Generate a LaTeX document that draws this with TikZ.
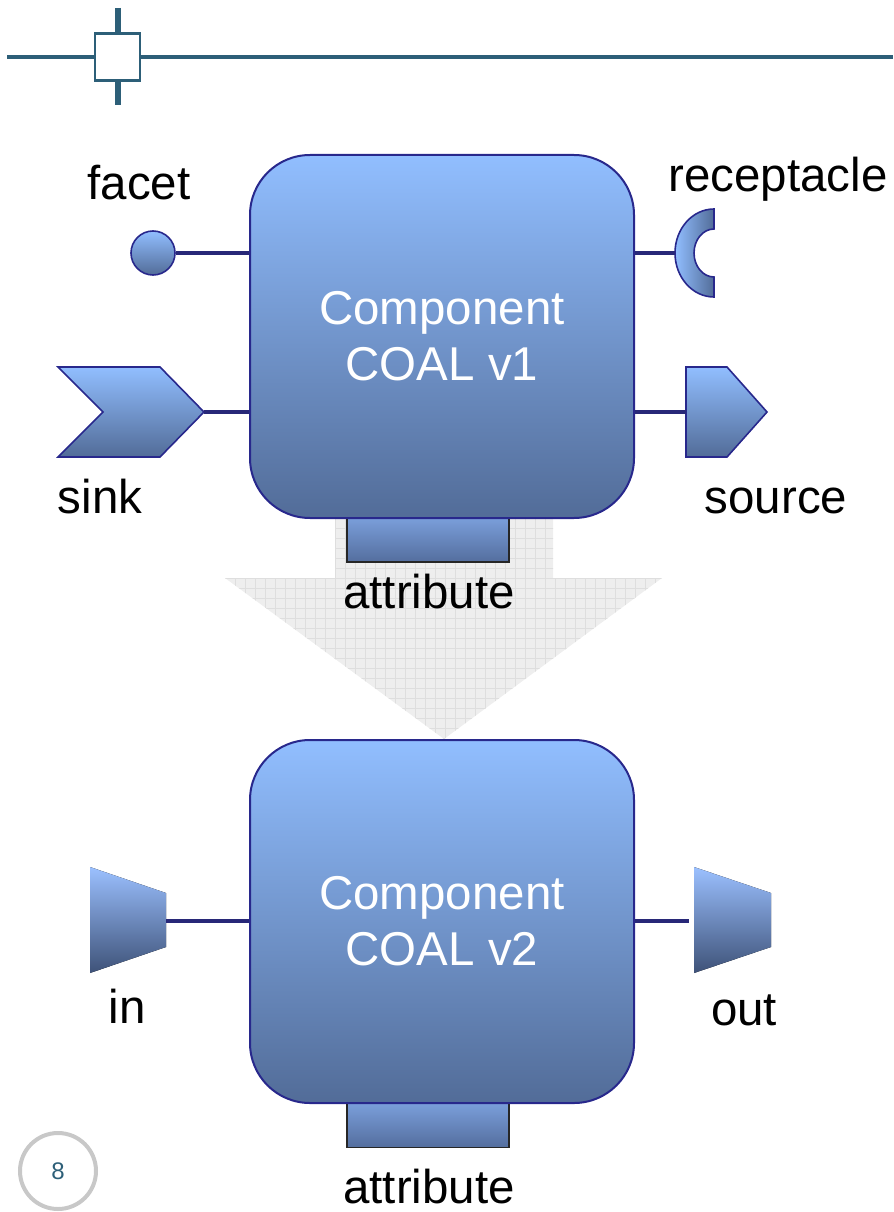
\documentclass[tikz,border=0pt]{standalone}
\usepackage{fontspec}
\setmainfont{Liberation Sans}
\definecolor{ctop}{RGB}{145,190,255}
\definecolor{cbot}{RGB}{82,108,152}
\definecolor{cborder}{RGB}{40,40,140}
\definecolor{wire}{RGB}{40,40,120}
\definecolor{deco}{RGB}{45,95,120}
\definecolor{attrtop}{RGB}{122,158,218}
\definecolor{attrbot}{RGB}{84,110,158}
\definecolor{trtop}{RGB}{155,192,255}
\definecolor{trbot}{RGB}{62,82,120}
\definecolor{arrowfill}{RGB}{238,238,238}
\definecolor{arrowgrid}{RGB}{222,222,222}
\definecolor{pagegray}{RGB}{200,200,200}
\begin{document}
\begin{tikzpicture}[x=0.75pt,y=-0.75pt,
  comp/.style={draw=cborder, line width=1.5pt, rounded corners=45pt, top color=ctop, bottom color=cbot,
    minimum width=288pt, minimum height=272.25pt, text=white, align=center,
    font=\fontsize{35.6}{42}\selectfont, inner sep=0pt},
  wirel/.style={draw=wire, line width=3pt},
  lbl/.style={font=\fontsize{35.6}{42}\selectfont, text=black, inner sep=0pt, anchor=base},
  attr/.style={draw=black!85, line width=1.2pt, top color=attrtop, bottom color=attrbot,
    minimum width=121.5pt, minimum height=33pt, inner sep=0pt},
  port/.style={draw=cborder, line width=1.2pt, top color=ctop, bottom color=cbot},
  trap/.style={top color=trtop, bottom color=trbot},
  decoline/.style={draw=deco, line width=3pt},
  gridline/.style={draw=arrowgrid, line width=0.4pt}
]
\useasboundingbox (0,0) rectangle (893,1212);

% header decoration
\draw[decoline] (7,57) -- (95,57);
\draw[decoline] (140,57) -- (893,57);
\draw[draw=deco, line width=4pt] (118,8) -- (118,33);
\draw[draw=deco, line width=4pt] (118,81) -- (118,105);
\node[draw=deco, line width=2.2pt, minimum width=33.75pt, minimum height=35.25pt, inner sep=0pt] (hbox) at (117.5,57) {};

% gray transition arrow
\fill[arrowfill] (335,518) -- (553,518) -- (553,578) -- (662,578) -- (444,739) -- (225,578) -- (335,578) -- cycle;
\begin{scope}
\clip (335,518) -- (553,518) -- (553,578) -- (662,578) -- (444,739) -- (225,578) -- (335,578) -- cycle;
\foreach \gx in {225,235,...,665} \draw[gridline] (\gx,510) -- (\gx,745);
\foreach \gy in {518,528,...,738} \draw[gridline] (220,\gy) -- (670,\gy);
\end{scope}

% attributes (behind components)
\node[attr] (a1) at (428,540) {};
\node[attr] (a2) at (428,1125.5) {};

% components
\node[comp] (c1) at (442,336.5) {Component\\COAL v1};
\node[comp] (c2) at (442,921.5) {Component\\COAL v2};

% facet
\node[port, circle, minimum size=33pt, inner sep=0pt] (facet) at (153,253) {};
\draw[wirel] (facet.east) -- (facet -| c1.west);

% receptacle
\coordinate (recl) at (675,253);
\draw[draw=cborder, line width=1.2pt, left color=ctop, right color=cbot]
  (714,297) arc[start angle=90, end angle=270, x radius=39, y radius=44]
  -- (714,229) arc[start angle=270, end angle=90, x radius=20, y radius=24] -- cycle;
\draw[wirel] (c1.east |- recl) -- (recl);

% sink
\coordinate (sinktip) at (204,412);
\draw[port] (58,367) -- (160,367) -- (sinktip) -- (160,457) -- (58,457) -- (103,412) -- cycle;
\draw[wirel] (sinktip) -- (sinktip -| c1.west);

% source
\coordinate (srcl) at (686,412);
\draw[port] (686,367) -- (727,367) -- (767,412) -- (727,457) -- (686,457) -- cycle;
\draw[wirel] (c1.east |- srcl) -- (srcl);

% in / out
\coordinate (inr) at (166,921);
\fill[trap] (90,867) -- (166,893) -- (166,947) -- (90,973) -- cycle;
\draw[wirel] (inr) -- (inr -| c2.west);
\coordinate (outl) at (689,921);
\fill[trap] (694,867) -- (771,893) -- (771,947) -- (694,973) -- cycle;
\draw[wirel] (c2.east |- outl) -- (outl);

% labels
\node[lbl] (lfacet) at (139,200) {facet};
\node[lbl] (lrec) at (778,192) {receptacle};
\node[lbl] (lsink) at (100,513) {sink};
\node[lbl] (lsource) at (776,513) {source};
\node[lbl] (lattr1) at (429,608) {attribute};
\node[lbl] (lin) at (127,1023) {in};
\node[lbl] (lout) at (744,1025) {out};
\node[lbl] (lattr2) at (429,1203) {attribute};

% page number
\node[circle, draw=pagegray, line width=3pt, minimum size=57pt, inner sep=0pt,
  text=deco, font=\fontsize{18}{21}\selectfont] (page) at (58,1171) {8};
\end{tikzpicture}
\end{document}
